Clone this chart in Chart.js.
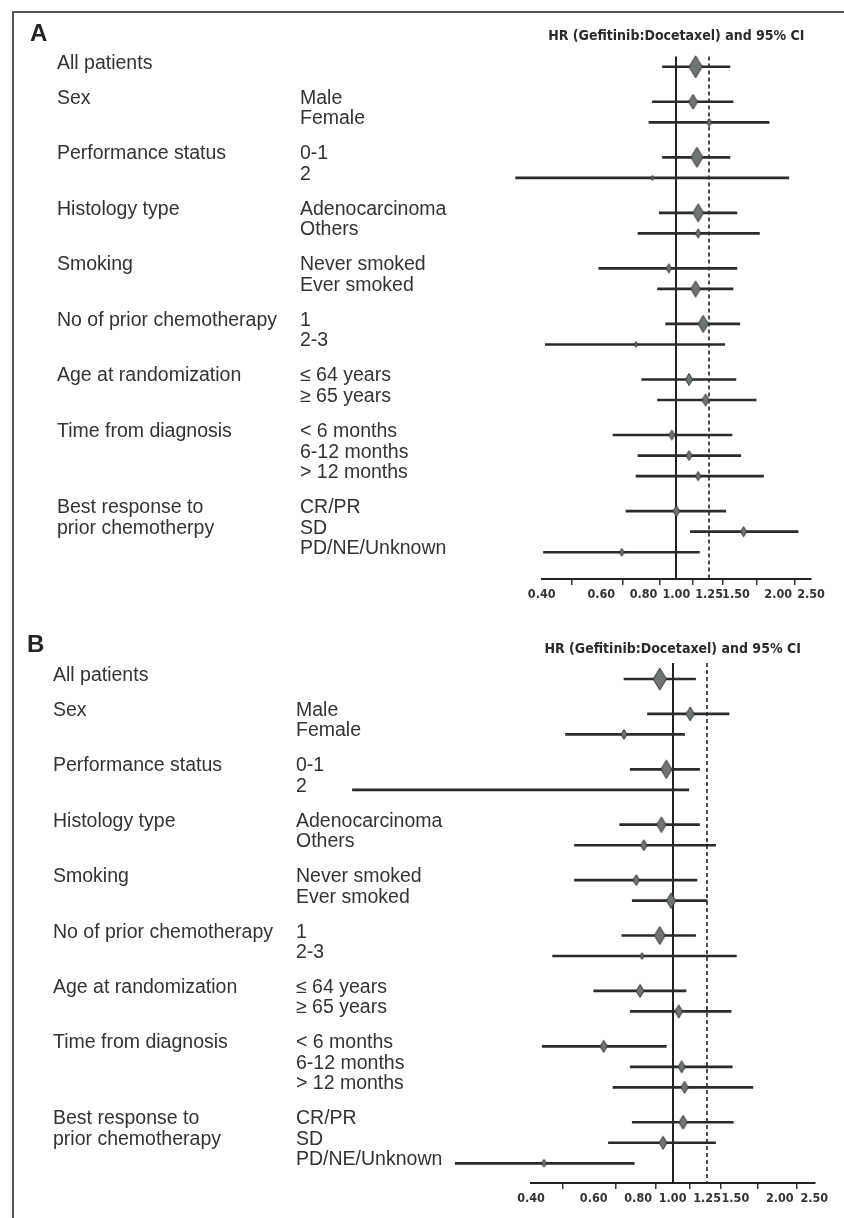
<!DOCTYPE html>
<html>
<head>
<meta charset="utf-8">
<script src="https://cdn.jsdelivr.net/npm/chart.js@4.4.1/dist/chart.umd.min.js"></script>
<style>
  html, body { margin: 0; padding: 0; background: #fff; }
  #wrap { position: relative; width: 844px; height: 1218px; overflow: hidden; }
  #frame { position: absolute; left: 12px; top: 11px; width: 840px; height: 1220px;
           border-left: 2px solid #555; border-top: 2px solid #555; }
  .panel-letter { position: absolute; font: bold 24px "Liberation Sans", Arial, sans-serif; color: #222; }
  canvas { position: absolute; left: 0; }
</style>
</head>
<body>
<div id="wrap">
  <div id="frame"></div>
  <canvas id="panelA" width="844" height="609" style="top:0"></canvas>
  <canvas id="panelB" width="844" height="609" style="top:609px"></canvas>
  <div class="panel-letter" style="left:30px;top:19px">A</div>
  <div class="panel-letter" style="left:27px;top:630px">B</div>
</div>
<script>
// subgroup forest plots, hazard ratio gefitinib vs docetaxel

const groupsA = ["All patients", "Sex", "Performance status", "Histology type", "Smoking",
  "No of prior chemotherapy", "Age at randomization", "Time from diagnosis",
  "Best response to\nprior chemotherpy"];
const groupsB = groupsA.slice(0, 8).concat(["Best response to\nprior chemotherapy"]);
const subgroups = [[""], ["Male", "Female"], ["0-1", "2"], ["Adenocarcinoma", "Others"],
  ["Never smoked", "Ever smoked"], ["1", "2-3"], ["\u2264 64 years", "\u2265 65 years"],
  ["< 6 months", "6-12 months", "> 12 months"], ["CR/PR", "SD", "PD/NE/Unknown"]];

const xTicks = [0.40, 0.60, 0.80, 1.00, 1.25, 1.50, 2.00, 2.50];
const refLines = [1.00, 1.25];   // no effect, non-inferiority margin

// panel A
const hrA = [1.14, 1.12, 1.25, 1.15, 0.85, 1.16, 1.16, 0.95, 1.14, 1.20, 0.76, 1.09, 1.22, 0.97, 1.09, 1.16, 1.00, 1.58, 0.69];
const loA = [0.91, 0.85, 0.83, 0.91, 0.335, 0.89, 0.77, 0.59, 0.88, 0.93, 0.41, 0.79, 0.88, 0.65, 0.77, 0.76, 0.71, 1.10, 0.405];
const hiA = [1.44, 1.47, 1.88, 1.44, 2.15, 1.51, 1.76, 1.51, 1.47, 1.54, 1.39, 1.50, 1.72, 1.46, 1.55, 1.81, 1.40, 2.29, 1.17];
const weightA = [100, 46, 13, 83, 5, 67, 17, 17, 53, 60, 7, 30, 30, 21, 21, 17, 25, 21, 13];

// panel B
const hrB = [0.92, 1.12, 0.73, 0.96, 0.38, 0.93, 0.83, 0.79, 0.99, 0.92, 0.82, 0.81, 1.04, 0.64, 1.06, 1.08, 1.07, 0.94, 0.435];
const loB = [0.73, 0.85, 0.50, 0.76, 0.126, 0.71, 0.53, 0.53, 0.77, 0.72, 0.46, 0.60, 0.76, 0.43, 0.76, 0.68, 0.77, 0.66, 0.245];
const hiB = [1.16, 1.44, 1.08, 1.19, 1.11, 1.19, 1.32, 1.17, 1.25, 1.16, 1.51, 1.09, 1.46, 0.96, 1.47, 1.68, 1.48, 1.32, 0.78];
const weightB = [100, 40, 20, 70, 5, 50, 25, 25, 50, 67, 10, 35, 35, 30, 30, 30, 40, 35, 13];

const GROUP_GAP = 0.7;
const TEXT_FONT = '19.5px "Liberation Sans", Arial, sans-serif';
const NARROW = '"DejaVu Sans Condensed", "Liberation Sans Narrow", "Roboto Condensed", sans-serif';

// row position of every subgroup line (extra space between groups)
const rowPos = [];
subgroups.forEach((subs, gi) => {
  subs.forEach(() => rowPos.push(rowPos.length + gi * GROUP_GAP));
});

function diamond(weight) {
  const h = Math.max(5, 22 * Math.sqrt(weight / 100));
  const w = Math.max(3, h * 0.6);
  const c = document.createElement("canvas");
  c.width = Math.ceil(w) + 2;
  c.height = Math.ceil(h) + 2;
  const g = c.getContext("2d");
  const cx = c.width / 2, cy = c.height / 2;
  g.beginPath();
  g.moveTo(cx, cy - h / 2);
  g.lineTo(cx + w / 2, cy);
  g.lineTo(cx, cy + h / 2);
  g.lineTo(cx - w / 2, cy);
  g.closePath();
  g.fillStyle = "#6e7671";
  g.fill();
  g.strokeStyle = "#333";
  g.lineWidth = 1;
  g.stroke();
  return c;
}

const rowLabels = {
  id: "rowLabels",
  afterDraw(chart, args, opts) {
    const { ctx } = chart;
    const y = chart.scales.y;
    ctx.save();
    ctx.font = TEXT_FONT;
    ctx.fillStyle = "#333";
    ctx.textBaseline = "alphabetic";
    let row = 0;
    opts.groups.forEach((g, gi) => {
      g.split("\n").forEach((line, li) => {
        ctx.fillText(line, opts.groupX, y.getPixelForValue(rowPos[row + li]) + 2);
      });
      subgroups[gi].forEach((s, si) => {
        ctx.fillText(s, opts.subX, y.getPixelForValue(rowPos[row + si]) + 2);
      });
      row += subgroups[gi].length;
    });
    ctx.restore();
  }
};

const refLinePlugin = {
  id: "refLinePlugin",
  beforeDatasetsDraw(chart) {
    const { ctx, chartArea, scales: { x } } = chart;
    ctx.save();
    ctx.strokeStyle = "#222";
    refLines.forEach((v, i) => {
      const px = Math.round(x.getPixelForValue(v));
      ctx.lineWidth = i === 0 ? 2 : 1.6;
      ctx.setLineDash(i === 0 ? [] : [4, 3]);
      ctx.beginPath();
      ctx.moveTo(px, chartArea.top);
      ctx.lineTo(px, chartArea.bottom);
      ctx.stroke();
    });
    ctx.restore();
  }
};

function forest(id, groups, hr, lo, hi, weight, lay) {
  new Chart(document.getElementById(id), {
    type: "bar",
    data: {
      datasets: [{
        type: "bar",
        indexAxis: "y",
        data: rowPos.map((p, i) => ({ x: [lo[i], hi[i]], y: p })),
        backgroundColor: "#2b2b2b",
        borderWidth: 0,
        barThickness: 2,
        clip: false,
        order: 2
      }, {
        type: "scatter",
        data: rowPos.map((p, i) => ({ x: hr[i], y: p })),
        pointStyle: weight.map(diamond),
        pointRadius: 4,
        clip: false,
        order: 1
      }]
    },
    options: {
      responsive: false,
      animation: false,
      devicePixelRatio: 1,
      layout: { padding: { left: lay.left, right: 844 - lay.right, top: 0, bottom: 0 } },
      plugins: {
        legend: { display: false },
        tooltip: { enabled: false },
        title: {
          display: true,
          fullSize: false,
          text: "HR (Gefitinib:Docetaxel) and 95% CI",
          color: "#2a2a2a",
          font: { family: NARROW, size: 14, weight: "bold", lineHeight: 1.2 },
          padding: { top: lay.titleTop, bottom: lay.titleBottom }
        },
        rowLabels: { groups: groups, groupX: lay.groupX, subX: lay.subX }
      },
      scales: {
        x: {
          type: "logarithmic",
          min: 0.4,
          max: 2.5,
          afterBuildTicks: (s) => { s.ticks = xTicks.map(v => ({ value: v })); },
          afterFit: (s) => { s.height = 609 - lay.axisY; },
          ticks: {
            autoSkip: false,
            maxRotation: 0,
            padding: 2,
            color: "#333",
            font: { family: NARROW, size: 12.5, weight: "bold" },
            callback: (v) => Number(v).toFixed(2)
          },
          grid: { drawOnChartArea: false, tickLength: 6, color: "#333", lineWidth: 1.5 },
          border: { display: true, color: "#222", width: 2 }
        },
        y: {
          type: "linear",
          reverse: true,
          display: false,
          offset: false,
          grace: 0,
          min: lay.yMin,
          max: lay.yMax
        }
      }
    },
    plugins: [refLinePlugin, rowLabels]
  });
}

forest("panelA", groupsA, hrA, loA, hiA, weightA, {
  left: 541.7, right: 811, axisY: 579, titleTop: 27.5, titleBottom: 12.2,
  yMin: -0.5, yMax: 24.9, groupX: 57, subX: 300
});
forest("panelB", groupsB, hrB, loB, hiB, weightB, {
  left: 531, right: 814.3, axisY: 574, titleTop: 31.5, titleBottom: 5.7,
  yMin: -0.78, yMax: 24.56, groupX: 53, subX: 296
});
</script>
</body>
</html>
